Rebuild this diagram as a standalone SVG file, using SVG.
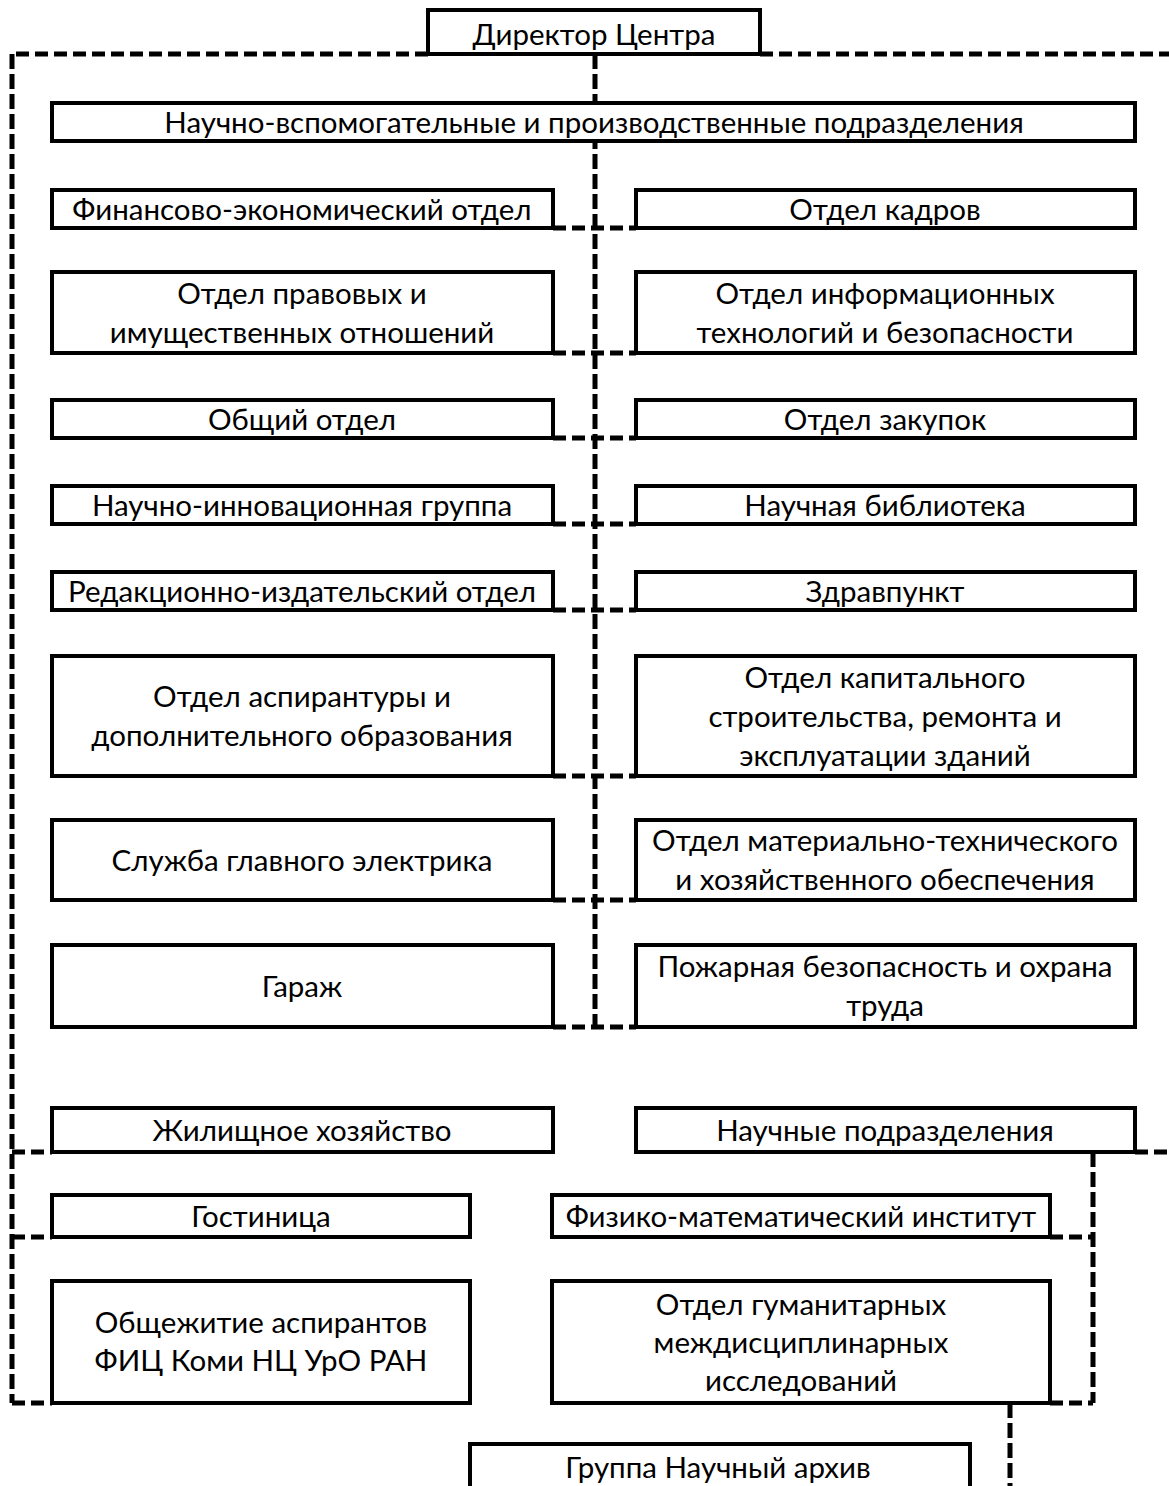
<svg xmlns="http://www.w3.org/2000/svg" width="1169" height="1486" viewBox="0 0 1169 1486">
<style>
.box{fill:#fff;stroke:#000;stroke-width:4}
.c{fill:none;stroke:#000;stroke-width:5;stroke-dasharray:13 6}
.v{fill:none;stroke:#000;stroke-width:5;stroke-dasharray:15 5}
.t{font-family:"Lato","Liberation Sans",sans-serif;font-size:29.5px;text-anchor:middle;fill:#000}
</style>
<rect width="1169" height="1486" fill="#fff"/>
<g id="connectors">
<path class="c" d="M428,54 H12"/>
<path class="v" d="M12,54 V1403"/>
<path class="c" d="M760,54 H1169"/>
<path class="v" d="M595,54 V1027"/>
<path class="c" d="M553,228 H636 M553,353 H636 M553,438 H636 M553,524 H636 M553,610 H636 M553,776 H636 M553,900 H636 M553,1027 H636"/>
<path class="c" d="M12,1152 H52 M12,1237 H52 M12,1403 H52"/>
<path class="c" d="M1135,1152 H1169"/>
<path class="v" d="M1093,1152 V1403"/>
<path class="c" d="M1050,1237 H1093 M1050,1403 H1093"/>
<path class="v" d="M1010,1403 V1486"/>
</g>
<g id="n-director"><rect class="box" x="428" y="10" width="332" height="44"/><text class="t" x="594" y="45">Директор Центра</text></g>
<g id="n-nvp"><rect class="box" x="52" y="103" width="1083" height="38"/><text class="t" x="594" y="133">Научно-вспомогательные и производственные подразделения</text></g>
<g id="n-fin"><rect class="box" x="52" y="190" width="501" height="38"/><text class="t" x="302" y="220">Финансово-экономический отдел</text></g>
<g id="n-kadr"><rect class="box" x="636" y="190" width="499" height="38"/><text class="t" x="885" y="220">Отдел кадров</text></g>
<g id="n-prav"><rect class="box" x="52" y="272" width="501" height="81"/><text class="t" x="302" y="304">Отдел правовых и</text><text class="t" x="302" y="343">имущественных отношений</text></g>
<g id="n-it"><rect class="box" x="636" y="272" width="499" height="81"/><text class="t" x="885" y="304">Отдел информационных</text><text class="t" x="885" y="343">технологий и безопасности</text></g>
<g id="n-obsh"><rect class="box" x="52" y="400" width="501" height="38"/><text class="t" x="302" y="430">Общий отдел</text></g>
<g id="n-zak"><rect class="box" x="636" y="400" width="499" height="38"/><text class="t" x="885" y="430">Отдел закупок</text></g>
<g id="n-nig"><rect class="box" x="52" y="486" width="501" height="38"/><text class="t" x="302" y="516">Научно-инновационная группа</text></g>
<g id="n-bib"><rect class="box" x="636" y="486" width="499" height="38"/><text class="t" x="885" y="516">Научная библиотека</text></g>
<g id="n-red"><rect class="box" x="52" y="572" width="501" height="38"/><text class="t" x="302" y="602">Редакционно-издательский отдел</text></g>
<g id="n-zdrav"><rect class="box" x="636" y="572" width="499" height="38"/><text class="t" x="885" y="602">Здравпункт</text></g>
<g id="n-asp"><rect class="box" x="52" y="656" width="501" height="120"/><text class="t" x="302" y="707">Отдел аспирантуры и</text><text class="t" x="302" y="746">дополнительного образования</text></g>
<g id="n-kap"><rect class="box" x="636" y="656" width="499" height="120"/><text class="t" x="885" y="688">Отдел капитального</text><text class="t" x="885" y="727">строительства, ремонта и</text><text class="t" x="885" y="766">эксплуатации зданий</text></g>
<g id="n-el"><rect class="box" x="52" y="820" width="501" height="80"/><text class="t" x="302" y="871">Служба главного электрика</text></g>
<g id="n-mat"><rect class="box" x="636" y="820" width="499" height="80"/><text class="t" x="885" y="851">Отдел материально-технического</text><text class="t" x="885" y="890">и хозяйственного обеспечения</text></g>
<g id="n-gar"><rect class="box" x="52" y="945" width="501" height="82"/><text class="t" x="302" y="997">Гараж</text></g>
<g id="n-pozh"><rect class="box" x="636" y="945" width="499" height="82"/><text class="t" x="885" y="977">Пожарная безопасность и охрана</text><text class="t" x="885" y="1016">труда</text></g>
<g id="n-zhil"><rect class="box" x="52" y="1108" width="501" height="44"/><text class="t" x="302" y="1141">Жилищное хозяйство</text></g>
<g id="n-nauch"><rect class="box" x="636" y="1108" width="499" height="44"/><text class="t" x="885" y="1141">Научные подразделения</text></g>
<g id="n-gost"><rect class="box" x="52" y="1195" width="418" height="42"/><text class="t" x="261" y="1227">Гостиница</text></g>
<g id="n-fmi"><rect class="box" x="552" y="1195" width="498" height="42"/><text class="t" x="801" y="1227">Физико-математический институт</text></g>
<g id="n-obshch"><rect class="box" x="52" y="1281" width="418" height="122"/><text class="t" x="261" y="1333">Общежитие аспирантов</text><text class="t" x="261" y="1371">ФИЦ Коми НЦ УрО РАН</text></g>
<g id="n-gum"><rect class="box" x="552" y="1281" width="498" height="122"/><text class="t" x="801" y="1315">Отдел гуманитарных</text><text class="t" x="801" y="1353">междисциплинарных</text><text class="t" x="801" y="1391">исследований</text></g>
<g id="n-arh"><rect class="box" x="470" y="1444" width="500" height="60"/><text class="t" x="718" y="1478">Группа Научный архив</text></g>
</svg>
